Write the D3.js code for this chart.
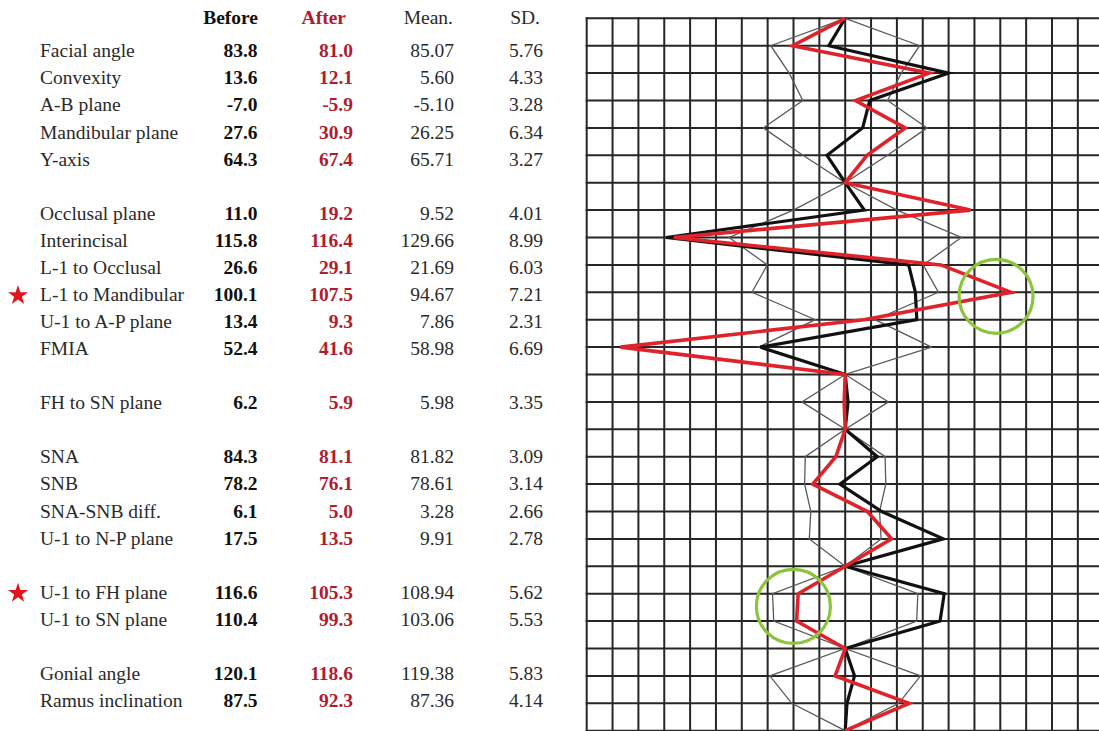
<!DOCTYPE html>
<html>
<head>
<meta charset="utf-8">
<script src="https://cdn.jsdelivr.net/npm/d3@7"></script>
<style>
  html, body { margin: 0; padding: 0; background: #fff; }
  svg { display: block; }
  text { font-family: "Liberation Serif", "Times New Roman", serif; font-size: 19.5px; }
</style>
</head>
<body>
<svg id="chart" width="1099" height="731"></svg>
<script>
// Cephalometric measurements (degrees / mm) before and after treatment,
// with the population norm (mean) and standard deviation.
const measures = [
  "Facial angle", "Convexity", "A-B plane", "Mandibular plane", "Y-axis",
  "Occlusal plane", "Interincisal", "L-1 to Occlusal", "L-1 to Mandibular", "U-1 to A-P plane", "FMIA",
  "FH to SN plane",
  "SNA", "SNB", "SNA-SNB diff.", "U-1 to N-P plane",
  "U-1 to FH plane", "U-1 to SN plane",
  "Gonial angle", "Ramus inclination"
];
const groups = [1, 1, 1, 1, 1, 2, 2, 2, 2, 2, 2, 3, 4, 4, 4, 4, 5, 5, 6, 6];
const before = [83.8, 13.6, -7.0, 27.6, 64.3, 11.0, 115.8, 26.6, 100.1, 13.4, 52.4, 6.2, 84.3, 78.2, 6.1, 17.5, 116.6, 110.4, 120.1, 87.5];
const after  = [81.0, 12.1, -5.9, 30.9, 67.4, 19.2, 116.4, 29.1, 107.5, 9.3, 41.6, 5.9, 81.1, 76.1, 5.0, 13.5, 105.3, 99.3, 118.6, 92.3];
const mean   = [85.07, 5.60, -5.10, 26.25, 65.71, 9.52, 129.66, 21.69, 94.67, 7.86, 58.98, 5.98, 81.82, 78.61, 3.28, 9.91, 108.94, 103.06, 119.38, 87.36];
const sd     = [5.76, 4.33, 3.28, 6.34, 3.27, 4.01, 8.99, 6.03, 7.21, 2.31, 6.69, 3.35, 3.09, 3.14, 2.66, 2.78, 5.62, 5.53, 5.83, 4.14];
const headers = ["Before", "After", "Mean.", "SD."];
// measures whose polygon direction is inverted
const reversed = ["A-B plane"];
// measures flagged in the table
const starred = ["L-1 to Mandibular", "U-1 to FH plane"];
// after-treatment points highlighted with a ring
const circled = [["L-1 to Mandibular"], ["U-1 to FH plane", "U-1 to SN plane"]];

const svg = d3.select("#chart");
const W = 1099, H = 731;

// Polygon rows: an anchor at the top, a blank row between groups, an anchor at the bottom.
const rows = [{ blank: true }];
measures.forEach((m, i) => {
  if (i > 0 && groups[i] !== groups[i - 1]) rows.push({ blank: true });
  rows.push({ i });
});
rows.push({ blank: true });
rows.forEach((r, k) => r.k = k);
const lastRow = rows.length - 1;

// Scales
const y = d3.scaleLinear().domain([0, lastRow]).range([18.3, 18.3 + 27.4 * lastRow]);
const x = d3.scaleLinear().domain([-20, 20]).range([586.7, 586.7 + 25.85 * 20]); // 2 units per cell
const textY = d3.scaleLinear().domain([1, lastRow - 1]).range([57.3, 707]);     // baselines

const sign = i => reversed.includes(measures[i]) ? -1 : 1;
const dev = (vals) => rows.map(r => ({ k: r.k, v: r.blank ? 0 : (vals[r.i] - mean[r.i]) * sign(r.i) }));

// ---- grid ----
const grid = svg.append("g").attr("stroke", "#262626").attr("stroke-width", 2);
grid.selectAll("line.v").data(d3.range(-20, 19, 2)).join("line")
  .attr("class", "v")
  .attr("x1", d => x(d)).attr("x2", d => x(d))
  .attr("y1", y(0) - 1).attr("y2", H);
grid.selectAll("line.h").data(d3.range(0, lastRow + 1)).join("line")
  .attr("class", "h")
  .attr("x1", x(-20) - 1).attr("x2", W)
  .attr("y1", d => y(d)).attr("y2", d => y(d));

// ---- polygon lines ----
const line = d3.line().x(d => x(d.v)).y(d => y(d.k));
const sdPlus = rows.map(r => ({ k: r.k, v: r.blank ? 0 : sd[r.i] }));
const sdMinus = rows.map(r => ({ k: r.k, v: r.blank ? 0 : -sd[r.i] }));

const lines = svg.append("g").attr("fill", "none");
[sdPlus, sdMinus].forEach(d => lines.append("path").attr("d", line(d))
  .attr("stroke", "#5a5a5a").attr("stroke-width", 1.3));
lines.append("path").attr("d", line(dev(before)))
  .attr("stroke", "#111").attr("stroke-width", 3.2).attr("stroke-linejoin", "miter");
lines.append("path").attr("d", line(dev(after)))
  .attr("stroke", "#e0222a").attr("stroke-width", 3.6).attr("stroke-linejoin", "miter");

// ---- highlight rings around after-treatment points ----
const ringNudge = [[-15, 4], [-4, -1]];
const afterPts = dev(after);
circled.forEach((names, j) => {
  const pts = names.map(n => {
    const r = rows.find(rr => !rr.blank && measures[rr.i] === n);
    return [x(afterPts[r.k].v), y(r.k)];
  });
  svg.append("circle")
    .attr("cx", d3.mean(pts, p => p[0]) + ringNudge[j][0])
    .attr("cy", d3.mean(pts, p => p[1]) + ringNudge[j][1])
    .attr("r", 37)
    .attr("fill", "none").attr("stroke", "#8cc43c").attr("stroke-width", 3.2);
});

// ---- table ----
const table = svg.append("g");
const colRight = { label: 40, before: 257.5, after: 353, mean: 454, sd: 543 };
const headRight = [258, 346, 453, 540];
const headStyle = [
  { fill: "#111", weight: "bold" }, { fill: "#b01c2e", weight: "bold" },
  { fill: "#2a2a2a", weight: "normal" }, { fill: "#2a2a2a", weight: "normal" }
];
table.selectAll("text.head").data(headers).join("text")
  .attr("class", "head")
  .attr("x", (d, i) => headRight[i]).attr("y", 24)
  .attr("text-anchor", "end")
  .attr("fill", (d, i) => headStyle[i].fill)
  .attr("font-weight", (d, i) => headStyle[i].weight)
  .text(d => d);

const dataRows = rows.filter(r => !r.blank);
const tr = table.selectAll("g.row").data(dataRows).join("g").attr("class", "row")
  .attr("transform", r => `translate(0,${textY(r.k)})`);
tr.append("text").attr("x", colRight.label).attr("fill", "#2a2a2a").text(r => measures[r.i]);
tr.append("text").attr("x", colRight.before).attr("text-anchor", "end")
  .attr("fill", "#111").attr("font-weight", "bold").text(r => before[r.i].toFixed(1));
tr.append("text").attr("x", colRight.after).attr("text-anchor", "end")
  .attr("fill", "#b01c2e").attr("font-weight", "bold").text(r => after[r.i].toFixed(1));
tr.append("text").attr("x", colRight.mean).attr("text-anchor", "end")
  .attr("fill", "#2a2a2a").text(r => mean[r.i].toFixed(2));
tr.append("text").attr("x", colRight.sd).attr("text-anchor", "end")
  .attr("fill", "#2a2a2a").text(r => sd[r.i].toFixed(2));

// stars beside flagged measures
const star = d3.symbol(d3.symbolStar).size(125);
tr.filter(r => starred.includes(measures[r.i])).append("path")
  .attr("d", star())
  .attr("transform", "translate(18,-5.5)")
  .attr("fill", "#e3141c");
</script>
</body>
</html>
